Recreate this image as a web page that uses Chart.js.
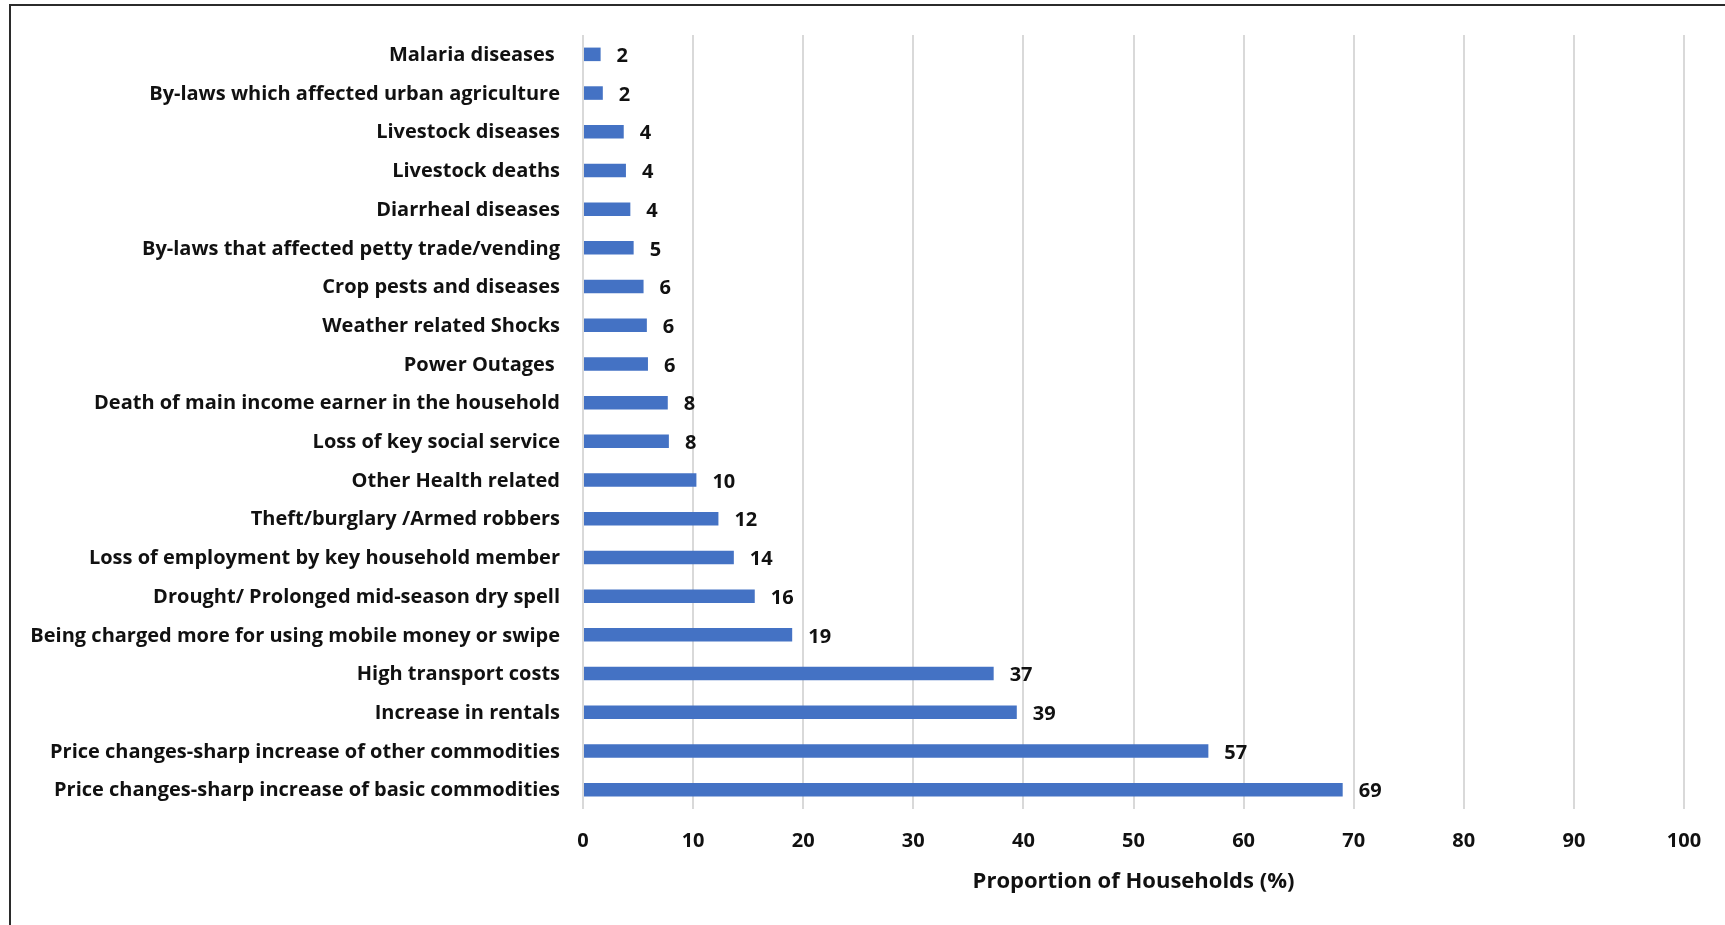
<!DOCTYPE html>
<html>
<head>
<meta charset="utf-8">
<script src="https://cdn.jsdelivr.net/npm/chart.js@4.4.1/dist/chart.umd.min.js"></script>
<style>
  html, body { margin: 0; padding: 0; background: #fff; }
  #wrap { position: relative; width: 1725px; height: 925px; overflow: hidden; }
  #frame { position: absolute; left: 9px; top: 4px; width: 1800px; height: 1000px;
           border-top: 2px solid #2b2b2b; border-left: 2px solid #2b2b2b; pointer-events: none; }
  canvas { position: absolute; left: 0; top: 0; }
</style>
</head>
<body>
<div id="wrap">
  <canvas id="c" width="1725" height="925"></canvas>
  <div id="frame"></div>
</div>
<script>
const categories = [
  "Malaria diseases ",
  "By-laws which affected urban agriculture",
  "Livestock diseases",
  "Livestock deaths",
  "Diarrheal diseases",
  "By-laws that affected petty trade/vending",
  "Crop pests and diseases",
  "Weather related Shocks",
  "Power Outages ",
  "Death of main income earner in the household",
  "Loss of key social service",
  "Other Health related",
  "Theft/burglary /Armed robbers",
  "Loss of employment by key household member",
  "Drought/ Prolonged mid-season dry spell",
  "Being charged more for using mobile money or swipe",
  "High transport costs",
  "Increase in rentals",
  "Price changes-sharp increase of other commodities",
  "Price changes-sharp increase of basic commodities"
];
const proportions = [1.6, 1.8, 3.7, 3.9, 4.3, 4.6, 5.5, 5.8, 5.9, 7.7, 7.8, 10.3, 12.3, 13.7, 15.6, 19.0, 37.3, 39.4, 56.8, 69.0];
const xTickMin = 0, xTickMax = 100, xTickStep = 10;
const axisTitle = "Proportion of Households (%)";

const FONT = "'Open Sans'";
const labelPlugin = {
  id: 'barValueLabels',
  afterDatasetsDraw(chart) {
    const ctx = chart.ctx;
    const meta = chart.getDatasetMeta(0);
    ctx.save();
    ctx.font = "bold 20px " + FONT;
    ctx.fillStyle = "#111";
    ctx.textAlign = "left";
    ctx.textBaseline = "middle";
    meta.data.forEach((el, i) => {
      ctx.fillText(String(Math.round(proportions[i])), el.x + 16, el.y + 2);
    });
    ctx.restore();
  }
};

new Chart(document.getElementById('c'), {
  type: 'bar',
  data: {
    labels: categories,
    datasets: [{
      data: proportions,
      backgroundColor: '#4472C4',
      borderWidth: 0,
      barPercentage: 0.35,
      categoryPercentage: 1.0
    }]
  },
  options: {
    indexAxis: 'y',
    responsive: false,
    animation: false,
    devicePixelRatio: 1,
    layout: { padding: { left: 0, right: 41, top: 35, bottom: 0 } },
    plugins: { legend: { display: false }, tooltip: { enabled: false } },
    scales: {
      x: {
        min: xTickMin, max: xTickMax,
        ticks: { stepSize: xTickStep, color: '#111', padding: 20,
                 font: { family: FONT, size: 20, weight: 'bold' } },
        grid: { color: '#d9d9d9', lineWidth: 2, drawTicks: false },
        border: { display: false },
        title: { display: true, text: axisTitle, color: '#111',
                 font: { family: FONT, size: 22, weight: 'bold' },
                 padding: { top: 0, bottom: 30 } },
        afterFit(scale) { scale.height = 116; }
      },
      y: {
        ticks: { color: '#111', padding: 23, autoSkip: false, labelOffset: 1,
                 font: { family: FONT, size: 20, weight: 'bold' } },
        grid: { display: false, drawTicks: false },
        border: { display: false },
        afterFit(scale) { scale.width = 583; }
      }
    }
  },
  plugins: [labelPlugin]
});
</script>
</body>
</html>
